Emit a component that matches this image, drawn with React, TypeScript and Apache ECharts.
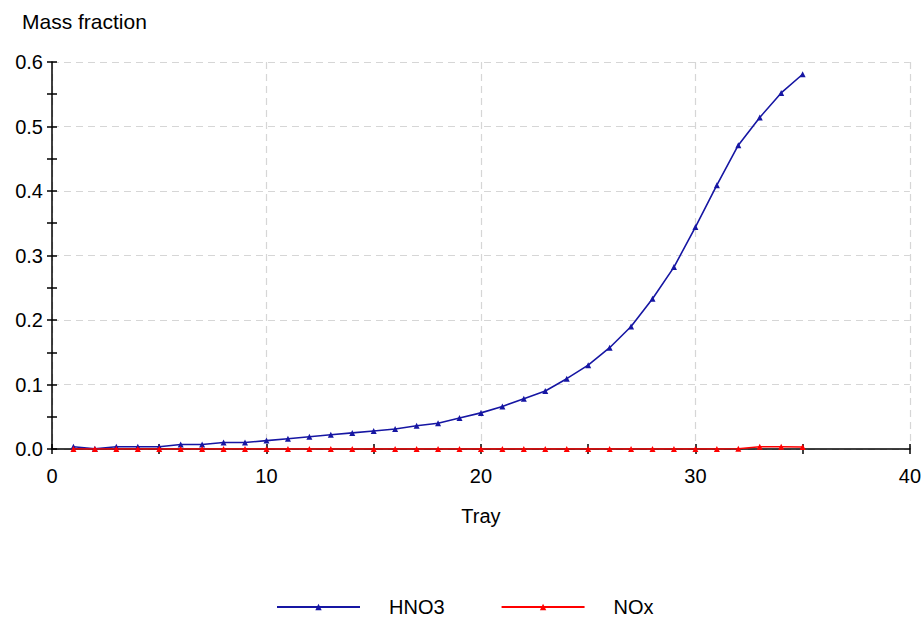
import React, { useEffect, useRef } from "react";
import * as echarts from "echarts";

const trays = [1, 2, 3, 4, 5, 6, 7, 8, 9, 10, 11, 12, 13, 14, 15, 16, 17, 18, 19, 20, 21, 22, 23, 24, 25, 26, 27, 28, 29, 30, 31, 32, 33, 34, 35];
const hno3 = [0.0035, 0.0005, 0.0035, 0.0035, 0.0035, 0.007, 0.007, 0.010, 0.010, 0.013, 0.016, 0.019, 0.022, 0.025, 0.028, 0.031, 0.036, 0.040, 0.048, 0.056, 0.066, 0.078, 0.090, 0.109, 0.130, 0.157, 0.190, 0.233, 0.282, 0.344, 0.409, 0.471, 0.514, 0.552, 0.581];
const nox = [0, 0, 0, 0, 0, 0, 0, 0, 0, 0, 0, 0, 0, 0, 0, 0, 0, 0, 0, 0, 0, 0, 0, 0, 0, 0, 0, 0, 0, 0, 0, 0.0005, 0.0035, 0.0035, 0.003];
const seriesNames = ["HNO3", "NOx"];
const yTitle = "Mass fraction";
const xTitle = "Tray";

const FONT = "'Liberation Sans', Arial, sans-serif";
const FS = 20;

export default function App() {
  const ref = useRef<HTMLDivElement>(null);
  useEffect(() => {
    if (!ref.current) return;
    const chart = echarts.init(ref.current, undefined, { renderer: "svg" });
    const gridLine = { show: true, lineStyle: { color: "#d6d6d6", type: [7, 5] as any, width: 1.2 } };
    const axisLineStyle = { show: true, onZero: false, lineStyle: { color: "#000", width: 1.5 } };
    chart.setOption({
      animation: false,
      textStyle: { fontFamily: FONT },
      title: {
        text: yTitle,
        left: 22,
        top: 11,
        padding: 0,
        textStyle: { fontFamily: FONT, fontSize: 21, fontWeight: "normal", color: "#000" },
      },
      grid: { left: 52, right: 14, top: 62, bottom: 172, containLabel: false },
      xAxis: [
        {
          type: "value",
          min: 0,
          max: 40,
          interval: 10,
          position: "bottom",
          name: xTitle,
          nameLocation: "middle",
          nameGap: 57,
          nameTextStyle: { fontFamily: FONT, fontSize: FS, color: "#000" },
          axisLine: axisLineStyle,
          axisTick: { show: true, inside: false, length: 5, lineStyle: { color: "#000", width: 1.5 } },
          minorTick: { show: true, splitNumber: 2, length: 5, lineStyle: { color: "#000", width: 1.5 } },
          axisLabel: { margin: 17, fontFamily: FONT, fontSize: FS, color: "#000" },
          splitLine: gridLine,
        },
        {
          type: "value",
          min: 0,
          max: 40,
          interval: 10,
          position: "bottom",
          axisLine: { show: false },
          axisTick: { show: true, inside: true, length: 5, lineStyle: { color: "#000", width: 1.5 } },
          minorTick: { show: true, splitNumber: 2, length: 5, lineStyle: { color: "#000", width: 1.5 } },
          axisLabel: { show: false },
          splitLine: { show: false },
        },
      ],
      yAxis: [
        {
          type: "value",
          min: 0,
          max: 0.6,
          interval: 0.1,
          position: "left",
          axisLine: axisLineStyle,
          axisTick: { show: true, inside: false, length: 5, lineStyle: { color: "#000", width: 1.5 } },
          minorTick: { show: true, splitNumber: 2, length: 5, lineStyle: { color: "#000", width: 1.5 } },
          axisLabel: {
            margin: 9,
            fontFamily: FONT,
            fontSize: FS,
            color: "#000",
            formatter: (v: number) => v.toFixed(1),
          },
          splitLine: gridLine,
        },
        {
          type: "value",
          min: 0,
          max: 0.6,
          interval: 0.1,
          position: "left",
          axisLine: { show: false },
          axisTick: { show: true, inside: true, length: 5, lineStyle: { color: "#000", width: 1.5 } },
          minorTick: { show: true, splitNumber: 2, length: 5, lineStyle: { color: "#000", width: 1.5 } },
          axisLabel: { show: false },
          splitLine: { show: false },
        },
      ],
      legend: {
        left: 276,
        top: 597,
        padding: 0,
        itemWidth: 83,
        itemHeight: 8,
        itemGap: 56,
        textStyle: { fontFamily: FONT, fontSize: FS, color: "#000", padding: [0, 0, 0, 24] },
        data: seriesNames,
      },
      series: [
        {
          name: seriesNames[0],
          type: "line",
          xAxisIndex: 0,
          yAxisIndex: 0,
          data: trays.map((t, i) => [t, hno3[i]]),
          symbol: "triangle",
          symbolSize: 6,
          showAllSymbol: true,
          color: "#1616a3",
          lineStyle: { color: "#1616a3", width: 1.6 },
          itemStyle: { color: "#1616a3" },
          z: 3,
        },
        {
          name: seriesNames[1],
          type: "line",
          xAxisIndex: 0,
          yAxisIndex: 0,
          data: trays.map((t, i) => [t, nox[i]]),
          symbol: "triangle",
          symbolSize: 6,
          showAllSymbol: true,
          color: "#ff0000",
          lineStyle: { color: "#ff0000", width: 1.6 },
          itemStyle: { color: "#ff0000" },
          z: 4,
        },
      ],
    });
    return () => chart.dispose();
  }, []);
  return <div ref={ref} style={{ width: 924, height: 621, position: "absolute", left: 0, top: 0 }} />;
}
